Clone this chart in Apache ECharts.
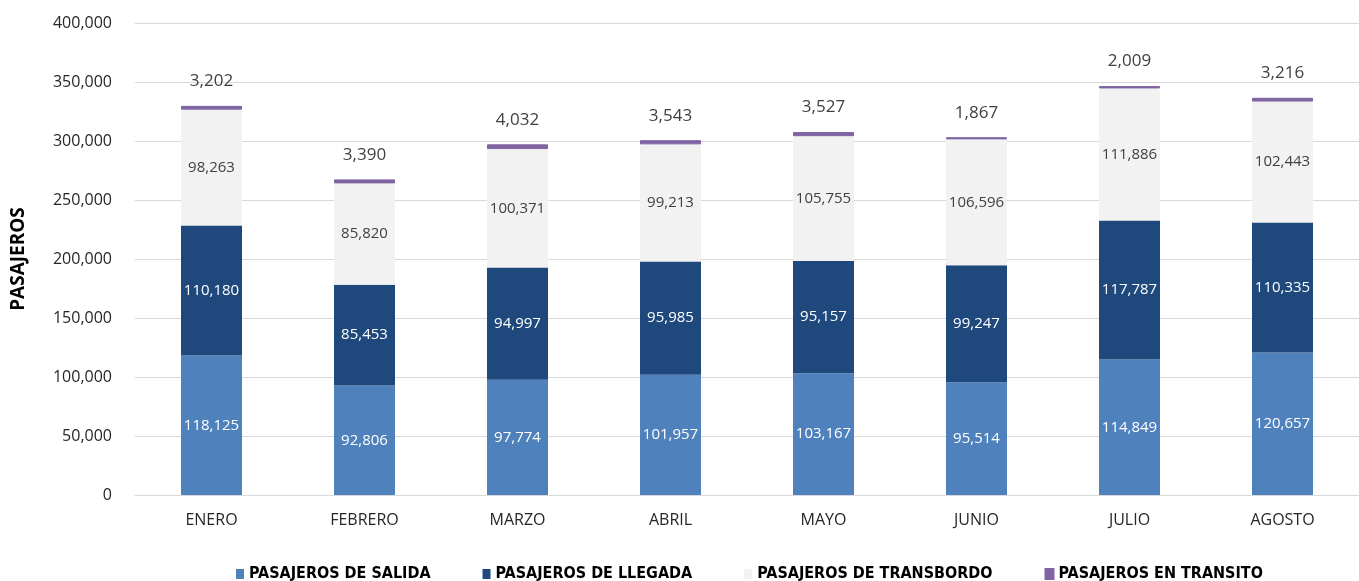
<!DOCTYPE html>
<html>
<head>
<meta charset="utf-8">
<script src="https://cdn.jsdelivr.net/npm/echarts@6/dist/echarts.min.js"></script>
<style>
  html, body { margin: 0; padding: 0; background: #fff; }
  #chart { width: 1359px; height: 581px; }
</style>
</head>
<body>
<div id="chart"></div>
<script>
const months = ['ENERO', 'FEBRERO', 'MARZO', 'ABRIL', 'MAYO', 'JUNIO', 'JULIO', 'AGOSTO'];
const salida = [118125, 92806, 97774, 101957, 103167, 95514, 114849, 120657];
const llegada = [110180, 85453, 94997, 95985, 95157, 99247, 117787, 110335];
const transbordo = [98263, 85820, 100371, 99213, 105755, 106596, 111886, 102443];
const transito = [3202, 3390, 4032, 3543, 3527, 1867, 2009, 3216];

const fmt = v => v.toLocaleString('en-US');
const font = '"Open Sans", "Noto Sans", sans-serif';

const chart = echarts.init(document.getElementById('chart'));

function inner(color) {
  return {
    show: true,
    position: 'inside',
    color: color,
    fontSize: 15,
    fontFamily: font,
    formatter: p => fmt(p.value)
  };
}

chart.setOption({
  animation: false,
  grid: {
    left: 135,
    top: 23,
    width: 1232,
    bottom: 86
  },
  legend: {
    left: 231,
    top: 561,
    itemWidth: 8,
    itemHeight: 10,
    itemGap: 52,
    icon: 'rect',
    textStyle: {
      fontFamily: '"Liberation Sans Narrow", "DejaVu Sans Condensed", sans-serif',
      fontWeight: 'bold',
      fontSize: 16,
      color: '#000'
    },
    data: ['PASAJEROS DE SALIDA', 'PASAJEROS DE LLEGADA', 'PASAJEROS DE TRANSBORDO', 'PASAJEROS EN TRANSITO']
  },
  xAxis: {
    type: 'category',
    data: months,
    axisTick: { show: false },
    axisLine: { lineStyle: { color: '#d9d9d9' } },
    axisLabel: { color: '#262626', fontSize: 16, fontFamily: font, margin: 17 }
  },
  yAxis: {
    type: 'value',
    min: 0,
    max: 400000,
    interval: 50000,
    name: 'PASAJEROS',
    nameLocation: 'middle',
    nameGap: 107,
    nameTextStyle: { fontSize: 19, fontWeight: 'bold', fontFamily: font, color: '#000' },
    axisLine: { show: false },
    axisTick: { show: false },
    splitLine: { lineStyle: { color: '#d9d9d9' } },
    axisLabel: { color: '#262626', fontSize: 16, fontFamily: font, margin: 23, formatter: fmt }
  },
  series: [
    {
      name: 'PASAJEROS DE SALIDA', type: 'bar', stack: 'total', barWidth: 61,
      itemStyle: { color: '#4F81BD' }, label: inner('#ffffff'), data: salida
    },
    {
      name: 'PASAJEROS DE LLEGADA', type: 'bar', stack: 'total', barWidth: 61,
      itemStyle: { color: '#1F497D' }, label: inner('#ffffff'), data: llegada
    },
    {
      name: 'PASAJEROS DE TRANSBORDO', type: 'bar', stack: 'total', barWidth: 61,
      itemStyle: { color: '#F2F2F2' }, label: inner('#404040'), data: transbordo
    },
    {
      name: 'PASAJEROS EN TRANSITO', type: 'bar', stack: 'total', barWidth: 61,
      itemStyle: { color: '#8064A2', borderColor: '#8064A2', borderWidth: 1 },
      label: {
        show: true, position: 'top', distance: 16,
        color: '#404040', fontSize: 17, fontFamily: font,
        formatter: p => fmt(p.value)
      },
      data: transito
    }
  ]
});
</script>
</body>
</html>
